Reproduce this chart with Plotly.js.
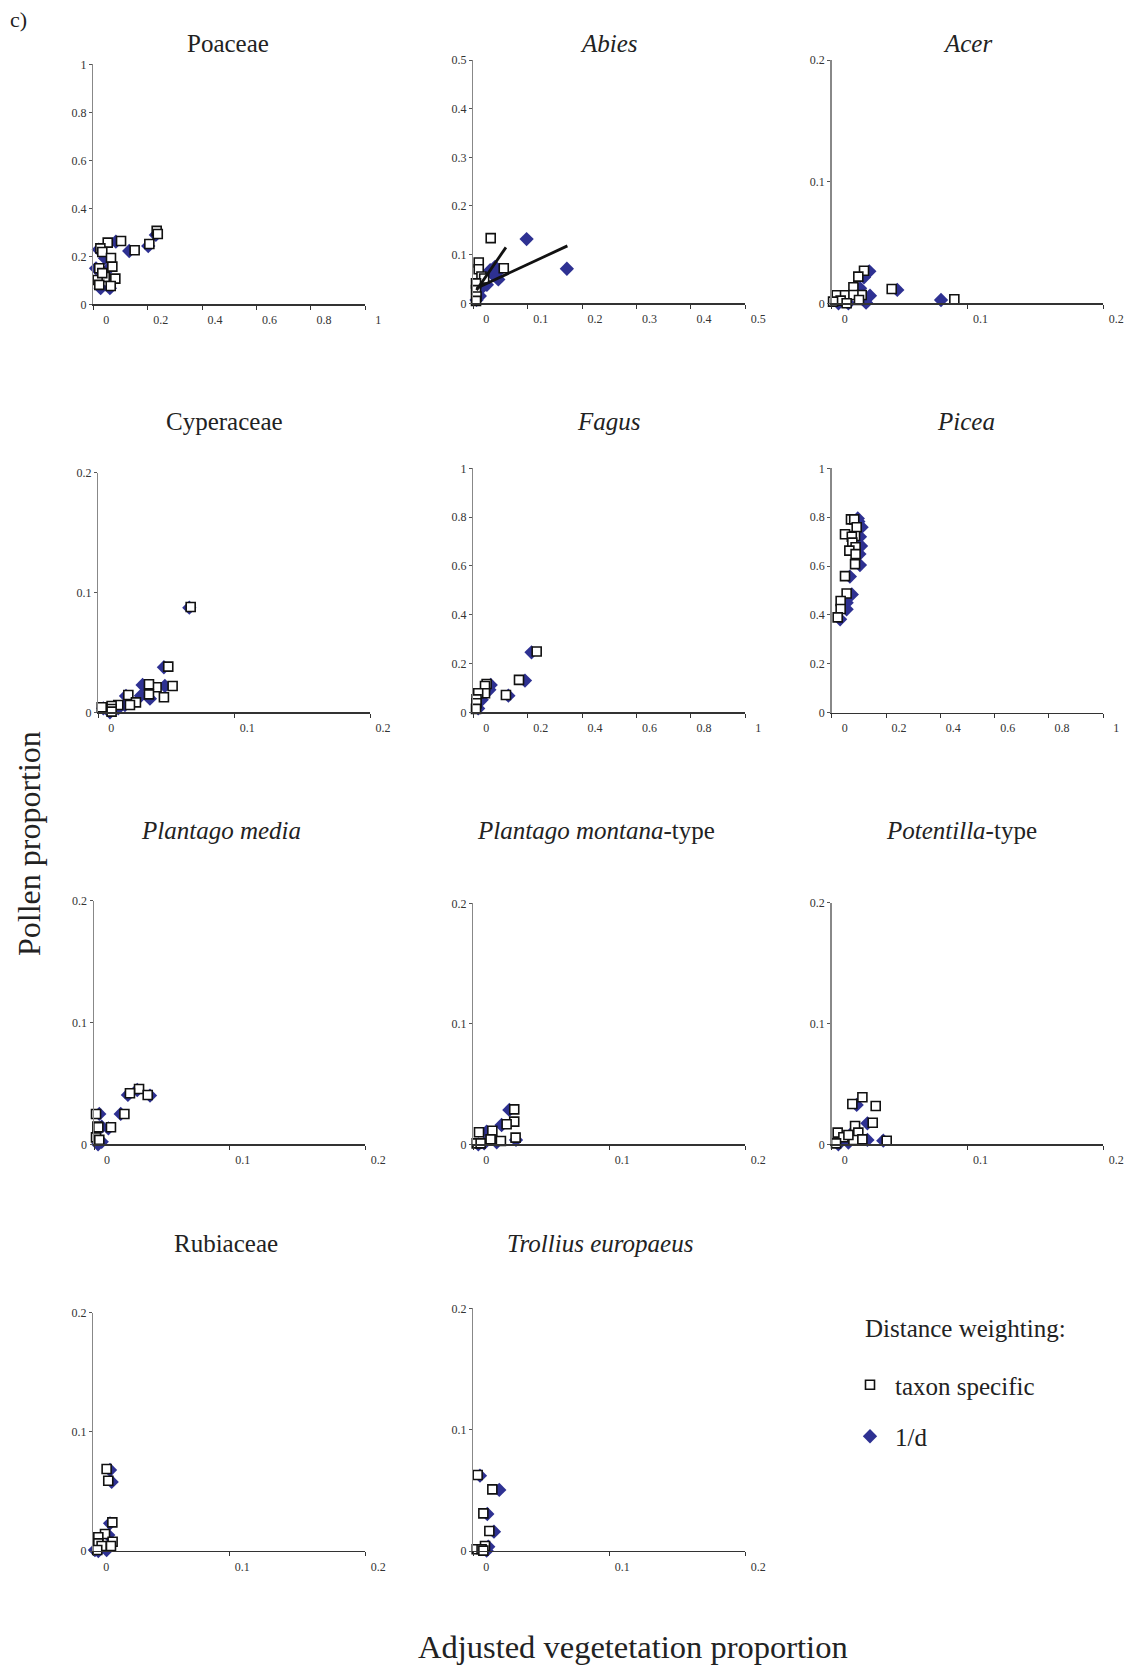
<!DOCTYPE html>
<html>
<head>
<meta charset="utf-8">
<script src="https://cdn.plot.ly/plotly-3.0.1.min.js"></script>
<style>html,body{margin:0;padding:0;background:#fff;}#chart{width:1129px;height:1669px;}</style>
</head>
<body>
<div id="chart"></div>
<script>
// ---------- DATA ----------
// "Tax" = taxon specific distance weighting (open squares), "Inv" = 1/d weighting (blue diamonds)
const taxa = ["Poaceae", "Abies", "Acer", "Cyperaceae", "Fagus", "Picea",
  "Plantago media", "Plantago montana-type", "Potentilla-type", "Rubiaceae", "Trollius europaeus"];
const taxaLabels = ["Poaceae", "<i>Abies</i>", "<i>Acer</i>", "Cyperaceae", "<i>Fagus</i>", "<i>Picea</i>",
  "<i>Plantago media</i>", "<i>Plantago montana</i>-type", "<i>Potentilla</i>-type", "Rubiaceae", "<i>Trollius europaeus</i>"];

const poaceaeTaxX = [0.233, 0.237, 0.206, 0.152, 0.102, 0.053, 0.026, 0.033, 0.065, 0.070, 0.022, 0.042, 0.081, 0.016, 0.022, 0.064, 0.033];
const poaceaeTaxY = [0.306, 0.293, 0.251, 0.225, 0.264, 0.257, 0.233, 0.218, 0.193, 0.157, 0.150, 0.114, 0.107, 0.101, 0.081, 0.076, 0.130];
const poaceaeInvX = [0.230, 0.202, 0.132, 0.083, 0.043, 0.058, 0.010, 0.027, 0.061, 0.020, 0.030];
const poaceaeInvY = [0.289, 0.243, 0.222, 0.261, 0.192, 0.150, 0.150, 0.067, 0.067, 0.228, 0.110];

const abiesTaxX = [0.032, 0.010, 0.010, 0.056, 0.015, 0.020, 0.005, 0.005, 0.006, 0.005];
const abiesTaxY = [0.134, 0.084, 0.070, 0.072, 0.055, 0.051, 0.041, 0.027, 0.014, 0.005];
const abiesInvX = [0.098, 0.172, 0.040, 0.043, 0.046, 0.037, 0.025, 0.031, 0.012, 0.006, 0.015];
const abiesInvY = [0.132, 0.071, 0.075, 0.062, 0.049, 0.058, 0.038, 0.068, 0.015, 0.007, 0.031];
// fitted lines in the Abies panel (end points)
const abiesFitTaxX = [0.006, 0.060];
const abiesFitTaxY = [0.027, 0.115];
const abiesFitInvX = [0.006, 0.173];
const abiesFitInvY = [0.031, 0.118];

const acerTaxX = [0.0238, 0.0196, 0.0160, 0.0442, 0.0903, 0.0037, 0.0098, 0.0221, 0.0160, 0.0066, 0.0201, 0.0110, 0.0010];
const acerTaxY = [0.0268, 0.0219, 0.0132, 0.0118, 0.0033, 0.0066, 0.0066, 0.0068, 0.0068, 0.0022, 0.0027, 0.0000, 0.0014];
const acerInvX = [0.0277, 0.0238, 0.0209, 0.0483, 0.0805, 0.0282, 0.0253, 0.0123, 0.0050];
const acerInvY = [0.0263, 0.0214, 0.0123, 0.0110, 0.0027, 0.0063, 0.0005, 0.0000, 0.0000];

const cyperTaxX = [0.068, 0.0515, 0.0547, 0.0429, 0.0373, 0.0373, 0.0483, 0.0221, 0.0277, 0.0233, 0.0147, 0.0098, 0.0025, 0.0098, 0.0098];
const cyperTaxY = [0.0879, 0.0381, 0.0220, 0.0209, 0.0234, 0.0150, 0.0125, 0.0145, 0.0083, 0.0061, 0.0061, 0.0053, 0.0042, 0.0028, 0.0006];
const cyperInvX = [0.067, 0.0483, 0.0490, 0.0326, 0.0314, 0.0380, 0.0204, 0.0196, 0.0086, 0.0037, 0.0147];
const cyperInvY = [0.0873, 0.0376, 0.0220, 0.0228, 0.0139, 0.0114, 0.0136, 0.0061, 0.0000, 0.0033, 0.0033];

const fagusTaxX = [0.233, 0.168, 0.120, 0.049, 0.043, 0.043, 0.018, 0.012, 0.012, 0.010];
const fagusTaxY = [0.249, 0.133, 0.071, 0.116, 0.108, 0.078, 0.078, 0.053, 0.037, 0.014];
const fagusInvX = [0.214, 0.190, 0.129, 0.064, 0.059, 0.031, 0.018, 0.037];
const fagusInvY = [0.246, 0.130, 0.068, 0.112, 0.092, 0.051, 0.016, 0.078];

const piceaTaxX = [0.071, 0.083, 0.092, 0.049, 0.086, 0.074, 0.076, 0.088, 0.065, 0.088, 0.086, 0.049, 0.055, 0.033, 0.033, 0.022];
const piceaTaxY = [0.791, 0.791, 0.759, 0.730, 0.723, 0.720, 0.696, 0.677, 0.663, 0.649, 0.608, 0.559, 0.488, 0.457, 0.424, 0.390];
const piceaInvX = [0.098, 0.110, 0.104, 0.108, 0.102, 0.104, 0.067, 0.074, 0.055, 0.055, 0.031, 0.096];
const piceaInvY = [0.782, 0.759, 0.720, 0.682, 0.649, 0.604, 0.557, 0.484, 0.450, 0.423, 0.382, 0.795];

const plMediaTaxX = [0.0332, 0.0265, 0.0396, 0.0224, 0.0125, 0.0015, 0.0025, 0.0032, 0.0015, 0.0039];
const plMediaTaxY = [0.0454, 0.0419, 0.0405, 0.0249, 0.0140, 0.0249, 0.0145, 0.0140, 0.0057, 0.0036];
const plMediaInvX = [0.0413, 0.0197, 0.0106, 0.0039, 0.0057, 0.0057, 0.0030, 0.0250, 0.0319];
const plMediaInvY = [0.0400, 0.0249, 0.0131, 0.0249, 0.0145, 0.0020, 0.0000, 0.0405, 0.0446];

const plMontTaxX = [0.0301, 0.0301, 0.0245, 0.0311, 0.0140, 0.0042, 0.0127, 0.0203, 0.0025, 0.0054];
const plMontTaxY = [0.0290, 0.0188, 0.0166, 0.0055, 0.0113, 0.0100, 0.0041, 0.0028, 0.0008, 0.0008];
const plMontInvX = [0.0265, 0.0208, 0.0098, 0.0172, 0.0314, 0.0037, 0.0080];
const plMontInvY = [0.0285, 0.0160, 0.0105, 0.0017, 0.0036, 0.0000, 0.0008];

const potenTaxX = [0.0226, 0.0152, 0.0324, 0.0302, 0.0172, 0.0196, 0.0044, 0.0086, 0.0160, 0.0226, 0.0405, 0.0032, 0.0123];
const potenTaxY = [0.0389, 0.0334, 0.0317, 0.0179, 0.0152, 0.0097, 0.0097, 0.0058, 0.0036, 0.0041, 0.0030, 0.0008, 0.0077];
const potenInvX = [0.0184, 0.0263, 0.0380, 0.0263, 0.0123, 0.0049, 0.0172];
const potenInvY = [0.0326, 0.0174, 0.0030, 0.0036, 0.0014, 0.0000, 0.0119];

const rubiaTaxX = [0.0098, 0.0110, 0.0140, 0.0086, 0.0037, 0.0037, 0.0142, 0.0130, 0.0061, 0.0029];
const rubiaTaxY = [0.0688, 0.0590, 0.0240, 0.0143, 0.0115, 0.0064, 0.0078, 0.0042, 0.0042, 0.0008];
const rubiaInvX = [0.0123, 0.0135, 0.0123, 0.0110, 0.0012, 0.0098, 0.0037];
const rubiaInvY = [0.0680, 0.0580, 0.0232, 0.0134, 0.0008, 0.0008, 0.0000];

const trollTaxX = [0.0032, 0.0140, 0.0074, 0.0118, 0.0086, 0.0025, 0.0061, 0.0074];
const trollTaxY = [0.0626, 0.0508, 0.0310, 0.0165, 0.0041, 0.0014, 0.0014, 0.0003];
const trollInvX = [0.0049, 0.0191, 0.0103, 0.0152, 0.0110, 0.0098];
const trollInvY = [0.0621, 0.0503, 0.0305, 0.0159, 0.0036, 0.0003];

// axis ranges / tick steps per panel
const axisMax  = [1, 0.5, 0.2, 0.2, 1, 1, 0.2, 0.2, 0.2, 0.2, 0.2];
const axisStep = [0.2, 0.1, 0.1, 0.1, 0.2, 0.2, 0.1, 0.1, 0.1, 0.1, 0.1];

const legendTitle = "Distance weighting:";
const seriesNames = ["taxon specific", "1/d"];
const yTitle = "Pollen proportion";
const xTitle = "Adjusted vegetetation proportion";

// ---------- LAYOUT (pixel boxes of each panel) ----------
const W = 1129, H = 1669;
const boxes = [
  [93.3, 365.3, 64.3, 304.3], [473.3, 745.3, 60, 303.3], [831.7, 1103.3, 60, 303.3],
  [98.3, 370, 472.7, 712.3], [473.3, 745.3, 468.3, 712.3], [831.7, 1103.3, 468.3, 712.7],
  [94, 365.3, 900.7, 1144.3], [473.3, 745.3, 903.3, 1144.3], [831.7, 1103.3, 902.7, 1144.3],
  [93.3, 365.3, 1312.7, 1551], [473.3, 745.3, 1308.3, 1551]
];
const titlePos = [
  [228, 43.6], [608.6, 43.6], [967, 43.6],
  [224.5, 421], [608.6, 421], [966, 421],
  [221, 830], [596, 830], [961, 830],
  [225.6, 1243], [600, 1243]
];
const dataSets = [
  [poaceaeTaxX, poaceaeTaxY, poaceaeInvX, poaceaeInvY],
  [abiesTaxX, abiesTaxY, abiesInvX, abiesInvY],
  [acerTaxX, acerTaxY, acerInvX, acerInvY],
  [cyperTaxX, cyperTaxY, cyperInvX, cyperInvY],
  [fagusTaxX, fagusTaxY, fagusInvX, fagusInvY],
  [piceaTaxX, piceaTaxY, piceaInvX, piceaInvY],
  [plMediaTaxX, plMediaTaxY, plMediaInvX, plMediaInvY],
  [plMontTaxX, plMontTaxY, plMontInvX, plMontInvY],
  [potenTaxX, potenTaxY, potenInvX, potenInvY],
  [rubiaTaxX, rubiaTaxY, rubiaInvX, rubiaInvY],
  [trollTaxX, trollTaxY, trollInvX, trollInvY]
];

const FONT = "Liberation Serif, Times New Roman, serif";
const BLUE = "#2e3192";
const traces = [];
const layout = {
  width: W, height: H,
  margin: {l: 0, r: 0, t: 0, b: 0},
  paper_bgcolor: "#fff", plot_bgcolor: "rgba(0,0,0,0)",
  font: {family: FONT, color: "#222"},
  showlegend: true,
  legend: {
    x: 845 / W, y: 1 - 1362 / H, xanchor: "left", yanchor: "top",
    font: {family: FONT, size: 25, color: "#222"},
    traceorder: "grouped", tracegroupgap: 16, itemwidth: 40,
    bgcolor: "rgba(0,0,0,0)", borderwidth: 0
  },
  annotations: [], shapes: []
};

dataSets.forEach((d, i) => {
  const n = i + 1;
  const xa = "x" + (n === 1 ? "" : n), ya = "y" + (n === 1 ? "" : n);
  const b = boxes[i];
  const axKey = n === 1 ? "" : n;
  layout["xaxis" + axKey] = {
    domain: [b[0] / W, b[1] / W], anchor: ya,
    range: [0, axisMax[i]], tick0: 0, dtick: axisStep[i], tickmode: "linear",
    showgrid: false, zeroline: false, showline: true, linecolor: "#333", linewidth: 1.2,
    ticks: "outside", ticklen: 4, tickcolor: "#333", tickwidth: 1,
    ticklabelshift: 13,
    tickfont: {family: FONT, size: 12, color: "#333"}
  };
  layout["yaxis" + axKey] = {
    domain: [1 - b[3] / H, 1 - b[2] / H], anchor: xa,
    range: [0, axisMax[i]], tick0: 0, dtick: axisStep[i], tickmode: "linear",
    showgrid: false, zeroline: false, showline: true, linecolor: "#888", linewidth: 1.5,
    ticks: "outside", ticklen: 3, tickcolor: "#555", tickwidth: 1,
    tickfont: {family: FONT, size: 12, color: "#333"}
  };
  // 1/d diamonds drawn first (beneath squares)
  traces.push({
    type: "scatter", mode: "markers", x: d[2], y: d[3], xaxis: xa, yaxis: ya,
    name: seriesNames[1], legendgroup: "inv", showlegend: i === 0, legendrank: 2,
    cliponaxis: false,
    marker: {symbol: "diamond", size: 11, color: BLUE, line: {width: 0}}
  });
  traces.push({
    type: "scatter", mode: "markers", x: d[0], y: d[1], xaxis: xa, yaxis: ya,
    name: seriesNames[0], legendgroup: "tax", showlegend: i === 0, legendrank: 1,
    cliponaxis: false,
    marker: {symbol: "square", size: 9, color: "#fff", line: {width: 1.6, color: "#111"}}
  });
  layout.annotations.push({
    xref: "paper", yref: "paper", x: titlePos[i][0] / W, y: 1 - titlePos[i][1] / H,
    xanchor: "center", yanchor: "middle", showarrow: false,
    text: taxaLabels[i], font: {family: FONT, size: 25, color: "#222"}
  });
});

// fitted lines in the Abies panel
traces.push({type: "scatter", mode: "lines", x: abiesFitTaxX, y: abiesFitTaxY, xaxis: "x2", yaxis: "y2",
  showlegend: false, line: {color: "#111", width: 2.8}});
traces.push({type: "scatter", mode: "lines", x: abiesFitInvX, y: abiesFitInvY, xaxis: "x2", yaxis: "y2",
  showlegend: false, line: {color: "#111", width: 2.8}});

layout.annotations.push(
  {xref: "paper", yref: "paper", x: 8 / W, y: 1 - 20 / H, xanchor: "left", yanchor: "middle",
   showarrow: false, text: "c)", font: {family: FONT, size: 22, color: "#222"}},
  {xref: "paper", yref: "paper", x: 863 / W, y: 1 - 1328 / H, xanchor: "left", yanchor: "middle",
   showarrow: false, text: legendTitle, font: {family: FONT, size: 25, color: "#222"}},
  {xref: "paper", yref: "paper", x: 29 / W, y: 1 - 844 / H, xanchor: "center", yanchor: "middle",
   showarrow: false, textangle: -90, text: yTitle, font: {family: FONT, size: 32, color: "#222"}},
  {xref: "paper", yref: "paper", x: 633 / W, y: 1 - 1647 / H, xanchor: "center", yanchor: "middle",
   showarrow: false, text: xTitle, font: {family: FONT, size: 32.5, color: "#222"}}
);

Plotly.newPlot("chart", traces, layout, {staticPlot: true, displayModeBar: false});
</script>
</body>
</html>
